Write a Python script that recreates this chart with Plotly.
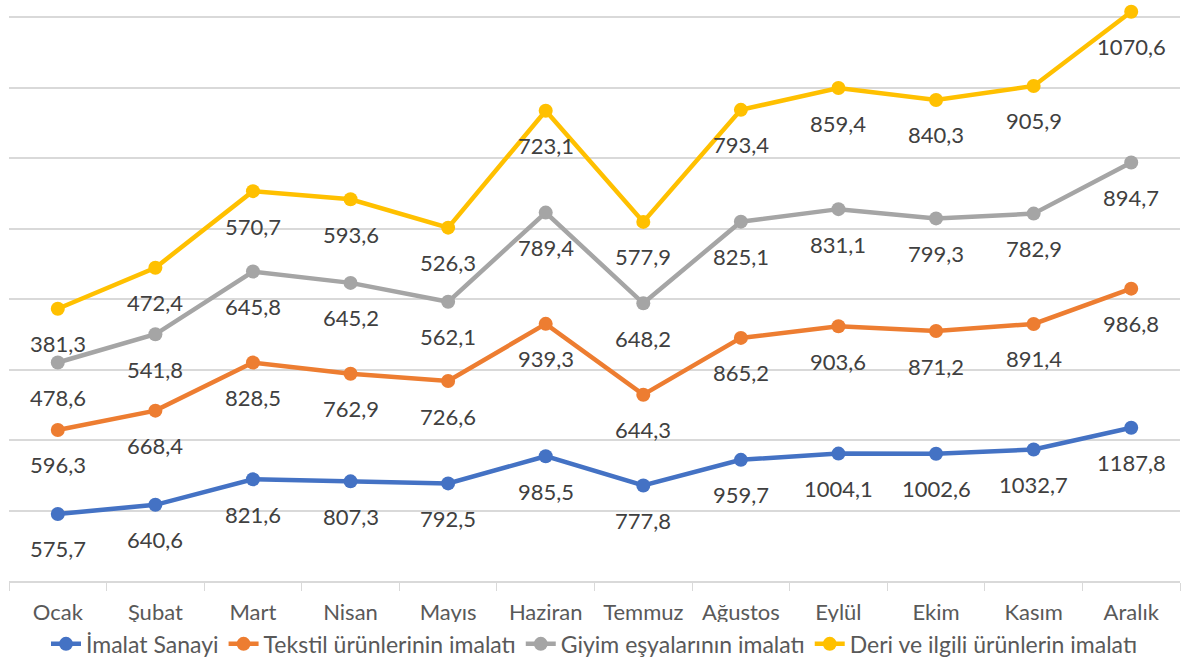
import numpy as np
import plotly.graph_objects as go

months = ["Ocak", "Şubat", "Mart", "Nisan", "Mayıs", "Haziran", "Temmuz",
          "Ağustos", "Eylül", "Ekim", "Kasım", "Aralık"]

imalat = [575.7, 640.6, 821.6, 807.3, 792.5, 985.5, 777.8, 959.7, 1004.1, 1002.6, 1032.7, 1187.8]
tekstil = [596.3, 668.4, 828.5, 762.9, 726.6, 939.3, 644.3, 865.2, 903.6, 871.2, 891.4, 986.8]
giyim = [478.6, 541.8, 645.8, 645.2, 562.1, 789.4, 648.2, 825.1, 831.1, 799.3, 782.9, 894.7]
deri = [381.3, 472.4, 570.7, 593.6, 526.3, 723.1, 577.9, 793.4, 859.4, 840.3, 905.9, 1070.6]

series = [
    ("İmalat Sanayi", imalat, "#4472C4"),
    ("Tekstil ürünlerinin imalatı", tekstil, "#ED7D31"),
    ("Giyim eşyalarının imalatı", giyim, "#A5A5A5"),
    ("Deri ve ilgili ürünlerin imalatı", deri, "#FFC000"),
]

FONT = "Lato"
TXT = "#404040"
AXTXT = "#595959"

fig = go.Figure()
annotations = []
# stacked line chart: each line sits on top of the previous ones
cum = np.zeros(len(months))
for name, vals, color in series:
    cum = cum + np.array(vals)
    fig.add_trace(go.Scatter(
        x=months, y=cum.tolist(),
        mode="lines+markers",
        name=name,
        line=dict(color=color, width=4.5),
        marker=dict(size=14, color=color),
        cliponaxis=False,
    ))
    for m, y, v in zip(months, cum, vals):
        annotations.append(dict(
            x=m, y=y, xref="x", yref="y",
            text=f"{v:.1f}".replace(".", ","),
            showarrow=False, yshift=-35,
            font=dict(family=FONT, size=22, color=TXT),
        ))

fig.update_xaxes(
    range=[-0.5, 11.5],
    showline=True, linecolor="#d9d9d9", linewidth=1.5,
    ticks="outside", tickson="boundaries", ticklen=8, tickcolor="#d9d9d9",
    tickfont=dict(family=FONT, size=22, color=AXTXT),
    ticklabelstandoff=11,
    showgrid=False,
)
fig.update_yaxes(
    range=[100, 4159], tick0=100, dtick=500,
    showticklabels=False, gridcolor="#d9d9d9", gridwidth=1.5,
    zeroline=False,
)

fig.update_layout(
    width=1195, height=660,
    paper_bgcolor="white", plot_bgcolor="white",
    margin=dict(l=9, r=15, t=9, b=79, autoexpand=False),
    annotations=annotations,
    showlegend=True,
    legend=dict(
        orientation="h", x=0.5, xanchor="center",
        yref="container", y=0.057, yanchor="top",
        font=dict(family=FONT, size=23, color=AXTXT),
        itemwidth=30, tracegroupgap=0,
    ),
)

# drop the browser's default 8px body margin so the figure sits at 0,0
fig.write_html("out.html", config={"displayModeBar": False},
               post_script="document.body.style.margin='0';")
